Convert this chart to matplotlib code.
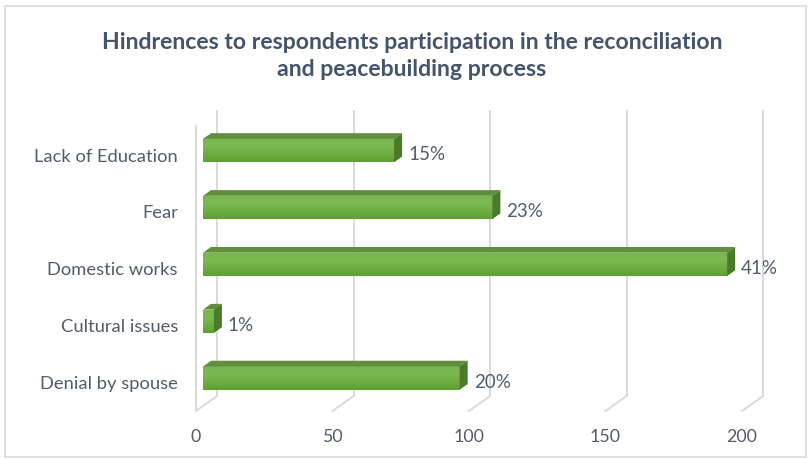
import numpy as np
import matplotlib
matplotlib.use("Agg")
import matplotlib.pyplot as plt
from matplotlib.patches import Polygon, Rectangle
from matplotlib.colors import LinearSegmentedColormap

# ---- data -------------------------------------------------------------
categories = ["Denial by spouse", "Cultural issues", "Domestic works",
              "Fear", "Lack of Education"]
counts = [94, 4, 192, 106, 70]
x_ticks = [0, 50, 100, 150, 200]
title_lines = ["Hindrences to respondents participation in the reconciliation",
               "and peacebuilding process"]

# ---- styling ----------------------------------------------------------
W, H = 809, 460
FONT = ["Lato", "DejaVu Sans"]
TEXT_COLOR = "#535C6B"
TITLE_COLOR = "#44546A"
GRID_COLOR = "#D9D9D9"
TOP_COLOR = "#5F8F3C"
SIDE_COLOR = "#4A7A2B"
front_cmap = LinearSegmentedColormap.from_list(
    "front", ["#5F9E34", "#6FAD42", "#7CB953", "#78B64E"])

DEPTH_X, DEPTH_Y = 21.0, 15.0      # pixel run of the full 3-D depth
BAR_FRONT, BAR_BACK = 1 / 3, 15 / 21
BAR_H = 0.41

fig = plt.figure(figsize=(W / 100, H / 100), dpi=100)
fig.patch.set_facecolor("white")
ax = fig.add_axes([203 / W, (H - 407) / H, 546 / W, 285 / H])
ax.set_xlim(0, 200)
ax.set_ylim(-0.49, 4.52)
ax.axis("off")


def at_depth(x, y, t, extra_x=0.0, extra_y=0.0):
    """Data point (x, y) pushed to depth t (0 = front, 1 = back wall)."""
    px = (t - BAR_FRONT) * DEPTH_X + extra_x
    py = (t - BAR_FRONT) * DEPTH_Y + extra_y
    disp = ax.transData.transform((x, y)) + np.array([px, py])
    return ax.transData.inverted().transform(disp)


y0, y1 = ax.get_ylim()

# walls, gridlines and value-axis labels
for v in x_ticks:
    a = at_depth(v, y0, 1.0)
    b = at_depth(v, y1, 1.0)
    ax.plot([a[0], b[0]], [a[1], b[1]], color=GRID_COLOR, lw=1.4,
            clip_on=False, zorder=1)
    f = at_depth(v, y0, 0.0)
    ax.plot([f[0], a[0]], [f[1], a[1]], color=GRID_COLOR, lw=1.4,
            clip_on=False, zorder=1)
    tp = at_depth(v, y0, 0.0, extra_y=-25)
    ax.text(tp[0], tp[1], str(v), ha="center", va="center", fontsize=12.8,
            color=TEXT_COLOR, family=FONT, clip_on=False)

lf = at_depth(0, y0, 0.0)
lt = at_depth(0, y1, 0.0)
ax.plot([lf[0], lt[0]], [lf[1], lt[1]], color=GRID_COLOR, lw=1.4,
        clip_on=False, zorder=1)

# bars
grad = np.linspace(0, 1, 64).reshape(-1, 1)
total = sum(counts)
for i, (cat, v) in enumerate(zip(categories, counts)):
    lo, hi = i - BAR_H / 2, i + BAR_H / 2
    front = Rectangle((0, lo), v, BAR_H, facecolor="none", edgecolor="none")
    ax.add_patch(front)
    im = ax.imshow(grad, extent=[0, v, lo, hi], origin="lower",
                   aspect="auto", cmap=front_cmap, zorder=3,
                   interpolation="bilinear")
    im.set_clip_path(front)

    top = [at_depth(0, hi, BAR_FRONT), at_depth(v, hi, BAR_FRONT),
           at_depth(v, hi, BAR_BACK), at_depth(0, hi, BAR_BACK)]
    ax.add_patch(Polygon(top, closed=True, facecolor=TOP_COLOR,
                         edgecolor="none", zorder=3, clip_on=False))
    side = [at_depth(v, lo, BAR_FRONT), at_depth(v, hi, BAR_FRONT),
            at_depth(v, hi, BAR_BACK), at_depth(v, lo, BAR_BACK)]
    ax.add_patch(Polygon(side, closed=True, facecolor=SIDE_COLOR,
                         edgecolor="none", zorder=3, clip_on=False))

    pct = f"{round(100 * v / total)}%"
    lp = at_depth(v, i, BAR_BACK, extra_x=6, extra_y=-8.7)
    ax.text(lp[0], lp[1], pct, ha="left", va="center", fontsize=13.5,
            color=TEXT_COLOR, family=FONT, clip_on=False, zorder=4)

    cp = at_depth(0, i, 0.0, extra_x=-18)
    ax.text(cp[0], cp[1], cat, ha="right", va="center", fontsize=13.2,
            color=TEXT_COLOR, family=FONT, clip_on=False, zorder=4)

ax.set_xlim(0, 200)
ax.set_ylim(y0, y1)

# title
fig.text(412 / W, (H - 42.5) / H, title_lines[0], ha="center", va="center",
         fontsize=16.6, fontweight="bold", color=TITLE_COLOR, family=FONT)
fig.text(412 / W, (H - 69.5) / H, title_lines[1], ha="center", va="center",
         fontsize=16.6, fontweight="bold", color=TITLE_COLOR, family=FONT)

# chart frame
fig.add_artist(Rectangle((5 / W, 2 / H), 801 / W, 451 / H,
                         transform=fig.transFigure, facecolor="none",
                         edgecolor=GRID_COLOR, lw=1.2))

fig.savefig("out.png", dpi=100)
